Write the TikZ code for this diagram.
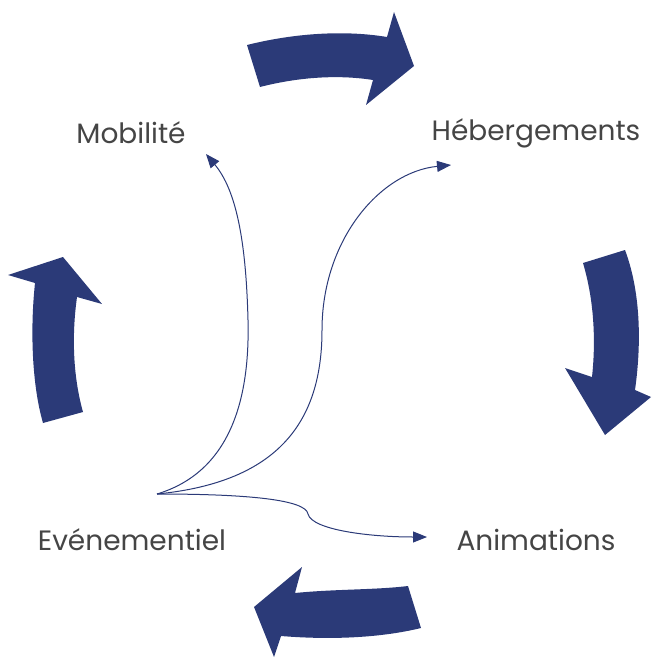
\documentclass[tikz,border=0pt]{standalone}
\usepackage{fontspec}
\setmainfont{Poppins}
\usetikzlibrary{arrows.meta}
\definecolor{navy}{HTML}{2B3A78}
\definecolor{txt}{HTML}{454545}
\tikzset{
  bigarrow/.style={fill=navy, draw=none},
  label/.style={text=txt, font=\fontsize{28}{32}\selectfont, inner sep=0pt},
  conn/.style={draw=navy, line width=1pt, -{Triangle[length=14pt,width=11pt]}}
}
\begin{document}
\begin{tikzpicture}[x=1pt,y=-1pt]
\useasboundingbox (0,0) rectangle (651,658);
% curved block arrows
\path[bigarrow] (247,45) .. controls (295,33) and (345,30) .. (387,37)
  -- (394,12) -- (414,66) -- (366,105) -- (373,80)
  .. controls (335,74) and (295,78) .. (260,87) -- cycle;
\path[bigarrow] (625,250) .. controls (640,290) and (642,340) .. (635,390)
  -- (651,397) -- (605,435) -- (565,368) -- (592,377)
  .. controls (596,340) and (594,300) .. (583,263) -- cycle;
\path[bigarrow] (408,586) -- (421,628)
  .. controls (380,638) and (330,640) .. (281,636)
  -- (274,657) -- (254,607) -- (302,567) -- (295,593)
  .. controls (335,589) and (375,590) .. (408,586) -- cycle;
\path[bigarrow] (43,423) .. controls (32,385) and (30,330) .. (35,283)
  -- (8,275) -- (63,257) -- (102,304) -- (77,297)
  .. controls (71,340) and (74,380) .. (83,412) -- cycle;
% labels
\node[label] (mob) at (131,133) {Mobilité};
\node[label] (heb) at (536,133) {Hébergements};
\node[label] (evt) at (132,540) {Evénementiel};
\node[label] (ani) at (536,540) {Animations};
% connectors
\coordinate (o) at (157,494);
\coordinate (tm) at (206,154);
\coordinate (th) at (451,165);
\coordinate (ta) at (427,537);
\draw[conn] (o) .. controls (230,472) and (250,400) .. (248,320)
  .. controls (246,240) and (236,190) .. (tm);
\draw[conn] (o) .. controls (280,482) and (322,420) .. (322,330)
  .. controls (322,240) and (380,172) .. (th);
\draw[conn] (o) .. controls (250,494) and (306,500) .. (308,514)
  .. controls (312,530) and (370,537) .. (ta);
\end{tikzpicture}
\end{document}
